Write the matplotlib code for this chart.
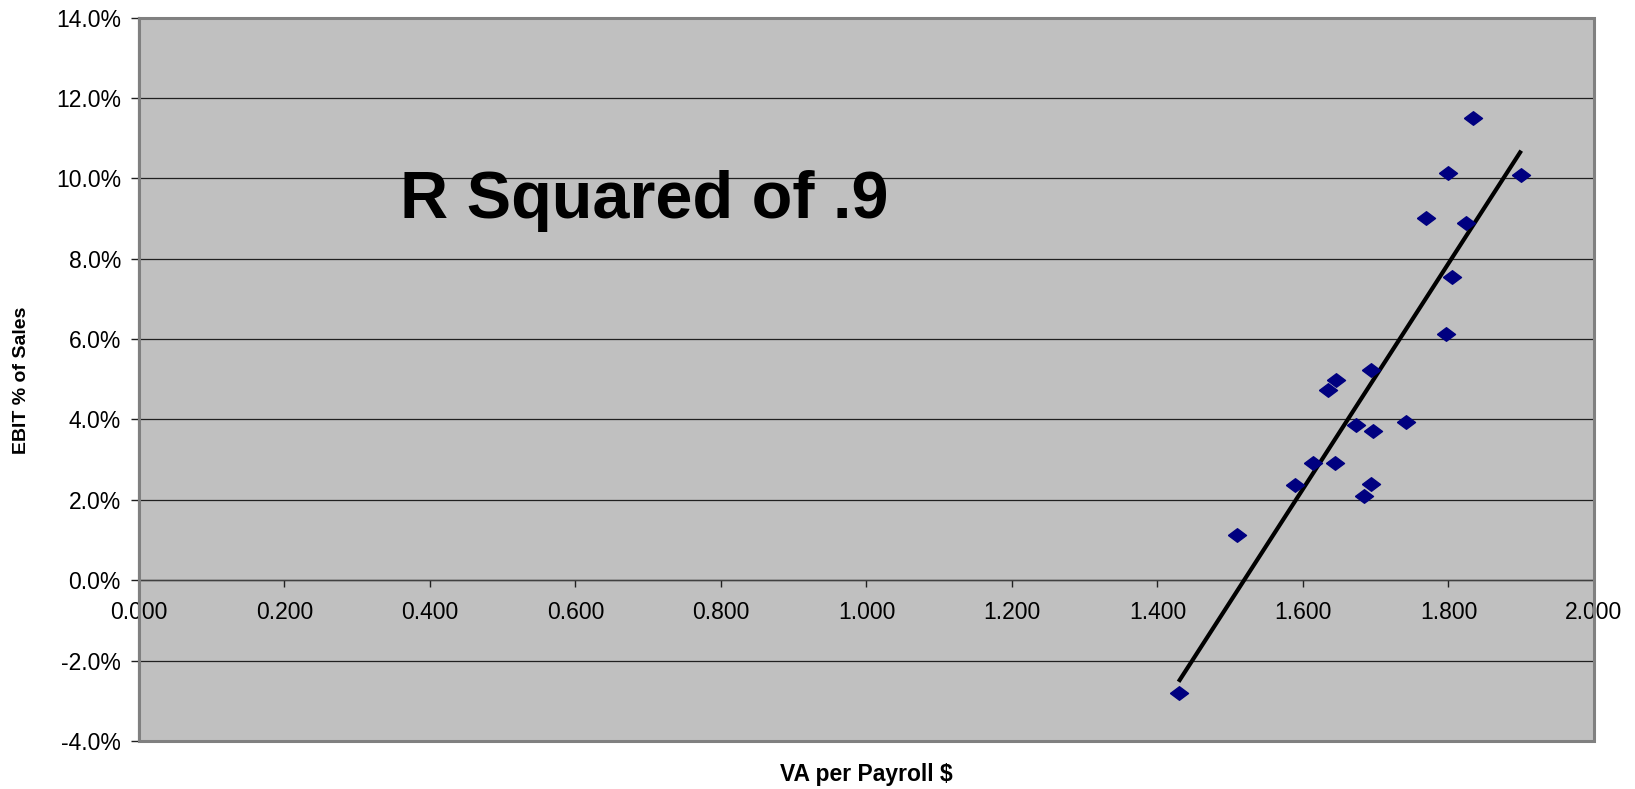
import numpy as np
import matplotlib
matplotlib.use("Agg")
from matplotlib import pyplot as plt
from matplotlib.patches import Rectangle

# VA per payroll $ vs EBIT % of sales
va_per_payroll = [1.429, 1.509, 1.589, 1.614, 1.644, 1.634, 1.645, 1.693, 1.673, 1.696,
                  1.742, 1.693, 1.684, 1.797, 1.834, 1.799, 1.900, 1.769, 1.824, 1.805]
ebit_pct = [-2.81, 1.13, 2.37, 2.92, 2.92, 4.73, 4.98, 5.23, 3.87, 3.72,
            3.94, 2.39, 2.10, 6.12, 11.51, 10.12, 10.09, 9.00, 8.90, 7.55]

x_ticks = [0.0, 0.2, 0.4, 0.6, 0.8, 1.0, 1.2, 1.4, 1.6, 1.8, 2.0]
y_ticks = [-4, -2, 0, 2, 4, 6, 8, 10, 12, 14]
note = "R Squared of .9"

plt.rcParams['font.family'] = ['Liberation Sans', 'DejaVu Sans']

fig = plt.figure(figsize=(16.35, 7.89), dpi=100)
ax = fig.add_axes([0.0850, 0.0608, 0.8899, 0.9170])
ax.set_facecolor("#c0c0c0")

ax.set_xlim(0, 2.0)
ax.set_ylim(-4, 14)

# horizontal gridlines
for yv in y_ticks:
    ax.axhline(yv, color="#202020", lw=0.9, zorder=1)

# linear trendline across the data range
xs = np.array(va_per_payroll)
ys = np.array(ebit_pct)
m, b = np.polyfit(xs, ys, 1)
xt = np.array([xs.min(), xs.max()])
ax.plot(xt, m * xt + b, color="black", lw=3, solid_capstyle="butt", zorder=3)

diamond = [(-1, 0), (0, 0.75), (1, 0), (0, -0.75), (-1, 0)]
ax.plot(xs, ys, linestyle="none", marker=diamond, ms=13, color="#000080", zorder=4)

ax.text(0.359, 9.01, note, fontsize=48, fontweight="bold", va="baseline", ha="left", zorder=5)

# axes: y axis at left, x axis crossing at 0
for s in ["top", "right"]:
    ax.spines[s].set_visible(False)
ax.spines["left"].set_color("#303030")
ax.spines["left"].set_linewidth(1.5)
ax.spines["bottom"].set_position(("data", 0))
ax.spines["bottom"].set_color("#404040")
ax.spines["bottom"].set_linewidth(1.0)
ax.add_patch(Rectangle((0, 0), 1, 1, transform=ax.transAxes, fill=False,
                       edgecolor="#808080", lw=2.2, zorder=6, clip_on=False))

ax.set_xticks(x_ticks)
ax.set_xticklabels(["%.3f" % v for v in x_ticks])
ax.set_yticks(y_ticks)
ax.set_yticklabels(["%.1f%%" % v for v in y_ticks])
ax.tick_params(axis="x", direction="out", length=5, width=1, color="#202020",
               labelsize=16.5, pad=10)
ax.tick_params(axis="y", direction="out", length=6, width=1, color="#202020",
               labelsize=16.5, pad=7)

fig.text(866 / 1635, 1 - 775 / 789, "VA per Payroll $", fontsize=16.5, fontweight="bold",
         ha="center", va="center")
fig.text(22 / 1635, 1 - 380 / 789, "EBIT % of Sales", fontsize=14, fontweight="bold",
         ha="center", va="center", rotation=90)

fig.savefig("out.png", dpi=100)
